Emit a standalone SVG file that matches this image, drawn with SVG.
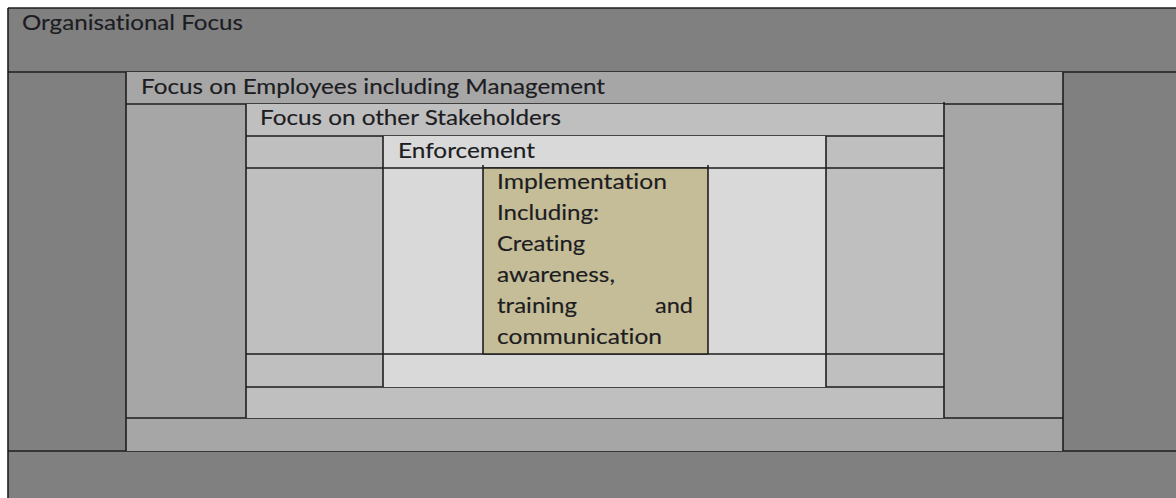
<svg xmlns="http://www.w3.org/2000/svg" width="1176" height="498" viewBox="0 0 1176 498">
  <style>
    .grid { stroke: #1e1e1e; stroke-width: 1.6; fill: none; }
    .l1 { fill: #808080; }
    .l2 { fill: #a6a6a6; }
    .l3 { fill: #bfbfbf; }
    .l4 { fill: #d9d9d9; }
    .l5 { fill: #c4bd97; }
    text { font-family: Lato, "Liberation Sans", sans-serif; font-size: 21px; fill: #1c1c22; stroke: #1c1c22; stroke-width: 0.15; font-variant-ligatures: none; }
  </style>

  <!-- white page behind the nested table -->
  <rect x="0" y="0" width="1176" height="498" fill="#ffffff"/>

  <!-- Level 1: organisational focus (outermost frame) -->
  <g id="organisational-focus">
    <rect class="l1" x="8" y="8" width="1180" height="500"/>
    <path class="grid" d="M8 8 H1176 M8 8 V498 M8 72 H1176 M8 451 H1176"/>
    <text x="22" y="30" textLength="221" lengthAdjust="spacingAndGlyphs">Organisational Focus</text>
  </g>

  <!-- Level 2: employees including management -->
  <g id="employees-focus">
    <rect class="l2" x="126" y="72" width="937" height="379"/>
    <path class="grid" d="M126 72 V451 M1063 72 V451 M126 104 H1063 M126 418 H1063"/>
    <text x="141" y="94" textLength="464" lengthAdjust="spacingAndGlyphs">Focus on Employees including Management</text>
  </g>

  <!-- Level 3: other stakeholders -->
  <g id="stakeholders-focus">
    <rect class="l3" x="246" y="104" width="698" height="314"/>
    <path class="grid" d="M246 104 V418 M944 102 V418 M246 136 H944 M246 168 H944 M246 354 H944 M246 387 H944"/>
    <text x="260" y="125" textLength="301" lengthAdjust="spacingAndGlyphs">Focus on other Stakeholders</text>
  </g>

  <!-- Level 4: enforcement -->
  <g id="enforcement">
    <rect class="l4" x="383" y="136" width="443" height="251"/>
    <path class="grid" d="M383 136 V387 M826 136 V387 M383 168 H826 M383 354 H826"/>
    <text x="398" y="158" textLength="137" lengthAdjust="spacingAndGlyphs">Enforcement</text>
  </g>

  <!-- Level 5: implementation (core cell) -->
  <g id="implementation">
    <rect class="l5" x="483" y="168" width="225" height="186"/>
    <path class="grid" d="M483 165 V354 M708 165 V354 M483 168 H708 M483 354 H708"/>
    <text x="497" y="189" textLength="170" lengthAdjust="spacingAndGlyphs">Implementation</text>
    <text x="497" y="220" textLength="102" lengthAdjust="spacingAndGlyphs">Including:</text>
    <text x="497" y="251" textLength="88" lengthAdjust="spacingAndGlyphs">Creating</text>
    <text x="497" y="282" textLength="118" lengthAdjust="spacingAndGlyphs">awareness,</text>
    <text x="497" y="313" textLength="80" lengthAdjust="spacingAndGlyphs">training</text>
    <text x="655" y="313" textLength="38" lengthAdjust="spacingAndGlyphs">and</text>
    <text x="497" y="344" textLength="165" lengthAdjust="spacingAndGlyphs">communication</text>
  </g>

  <!-- no connectors: the levels are nested cells -->
  <g id="connectors"/>
</svg>
